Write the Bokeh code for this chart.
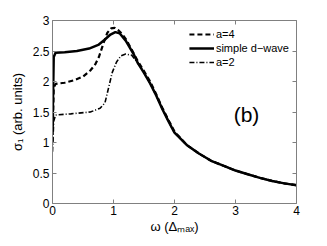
from bokeh.plotting import figure
from bokeh.models import LinearAxis, Range1d, Label, Legend, LegendItem, FixedTicker
from bokeh.embed import file_html
from bokeh.resources import INLINE

# values in units of 1e-3
x_a4 = [0, 0.02, 0.05, 0.2, 0.35, 0.5, 0.62, 0.7, 0.76, 0.84, 0.9, 0.96, 1.02, 1.08, 1.14, 1.2, 1.3, 1.4,
        1.5, 1.6, 1.7, 1.8, 1.9, 2.0, 2.2, 2.4, 2.6, 2.8, 3.0, 3.2, 3.4, 3.6, 3.8, 4.0]
y_a4 = [1.0, 1.9, 1.96, 1.98, 2.02, 2.08, 2.18, 2.28, 2.40, 2.64, 2.80, 2.87, 2.88, 2.84, 2.78, 2.70, 2.52, 2.33,
        2.17, 2.0, 1.79, 1.57, 1.37, 1.18, 0.96, 0.82, 0.70, 0.62, 0.54, 0.48, 0.42, 0.37, 0.33, 0.30]

x_dw = [0, 0.02, 0.05, 0.2, 0.4, 0.6, 0.75, 0.85, 0.95, 1.03, 1.1, 1.2, 1.33, 1.4,
        1.5, 1.6, 1.7, 1.8, 1.9, 2.0, 2.2, 2.4, 2.6, 2.8, 3.0, 3.2, 3.4, 3.6, 3.8, 4.0]
y_dw = [1.2, 2.4, 2.47, 2.48, 2.5, 2.54, 2.6, 2.68, 2.77, 2.81, 2.79, 2.67, 2.45, 2.3,
        2.14, 1.97, 1.77, 1.55, 1.35, 1.16, 0.96, 0.82, 0.70, 0.62, 0.54, 0.48, 0.42, 0.37, 0.33, 0.30]

x_a2 = [0, 0.02, 0.05, 0.3, 0.62, 0.78, 0.86, 0.92, 0.98, 1.05, 1.12, 1.2, 1.3, 1.4,
        1.5, 1.6, 1.7, 1.8, 1.9, 2.0, 2.2, 2.4, 2.6, 2.8, 3.0, 3.2, 3.4, 3.6, 3.8, 4.0]
y_a2 = [0.85, 1.35, 1.45, 1.47, 1.50, 1.56, 1.65, 1.9, 2.15, 2.32, 2.42, 2.45, 2.43, 2.3,
        2.15, 1.97, 1.77, 1.55, 1.35, 1.16, 0.96, 0.82, 0.70, 0.62, 0.54, 0.48, 0.42, 0.37, 0.33, 0.30]

x_ticks = [0, 1, 2, 3, 4]
y_ticks = [0, 0.5, 1, 1.5, 2, 2.5, 3]
y_tick_labels = {0: "0", 0.5: "0.5", 1: "1", 1.5: "1.5", 2: "2", 2.5: "2.5", 3: "3"}

FONT = "Liberation Sans"
AX = "#808080"

p = figure(width=319, height=238, output_backend="svg", toolbar_location=None,
           x_range=Range1d(0, 4), y_range=Range1d(0, 3),
           min_border_left=52, min_border_right=23, min_border_top=20, min_border_bottom=35)
p.grid.visible = False
p.outline_line_color = None
p.background_fill_color = "white"

for ax in [p.xaxis[0], p.yaxis[0]]:
    ax.axis_line_color = AX
    ax.major_tick_line_color = AX
    ax.major_tick_in = 4
    ax.major_tick_out = 0
    ax.minor_tick_line_color = None
    ax.major_label_text_font = FONT
    ax.major_label_text_font_size = "12px"
    ax.major_label_text_color = "black"
    ax.axis_label_text_font = FONT
    ax.axis_label_text_font_size = "13px"
    ax.axis_label_text_font_style = "normal"
    ax.axis_label_text_color = "black"

p.xaxis.ticker = FixedTicker(ticks=x_ticks)
p.yaxis.ticker = FixedTicker(ticks=y_ticks)
p.yaxis.major_label_overrides = y_tick_labels
p.xaxis.axis_label = "ω (Δₘₐₓ)"
p.yaxis.axis_label = "σ₁ (arb. units)"
p.xaxis.major_label_standoff = 2
p.yaxis.major_label_standoff = 3
p.xaxis.axis_label_standoff = 1
p.yaxis.axis_label_standoff = 5

top = LinearAxis(ticker=FixedTicker(ticks=x_ticks), major_label_overrides={t: "" for t in x_ticks})
right = LinearAxis(ticker=FixedTicker(ticks=y_ticks), major_label_overrides={t: "" for t in y_ticks})
for ax in [top, right]:
    ax.axis_line_color = AX
    ax.major_tick_line_color = AX
    ax.major_tick_in = 4
    ax.major_tick_out = 0
    ax.minor_tick_line_color = None
    ax.major_label_standoff = 0
p.add_layout(top, "above")
p.add_layout(right, "right")

r1 = p.line(x_a4, y_a4, line_color="black", line_width=2.2, line_dash="5 3")
r2 = p.line(x_dw, y_dw, line_color="black", line_width=2.5)
r3 = p.line(x_a2, y_a2, line_color="black", line_width=1.6, line_dash="5 2 1 2")

legend = Legend(items=[LegendItem(label="a=4", renderers=[r1]),
                       LegendItem(label="simple d\u2212wave", renderers=[r2]),
                       LegendItem(label="a=2", renderers=[r3])],
                location="top_right", margin=7, padding=2, spacing=0,
                glyph_width=25, glyph_height=14, label_height=14, label_standoff=2,
                label_text_font=FONT, label_text_font_size="11px", label_text_color="black",
                background_fill_alpha=0, border_line_color=None)
p.add_layout(legend)

p.add_layout(Label(x=0, y=3, x_offset=1, y_offset=3, text="x 10⁻³", text_font=FONT,
                   text_font_size="10px", text_baseline="bottom", text_color="black"))
p.add_layout(Label(x=2.97, y=1.46, text="(b)", text_font=FONT, text_font_size="21px",
                   text_baseline="alphabetic", text_color="black"))

open("out.html", "w").write(file_html(p, INLINE))
